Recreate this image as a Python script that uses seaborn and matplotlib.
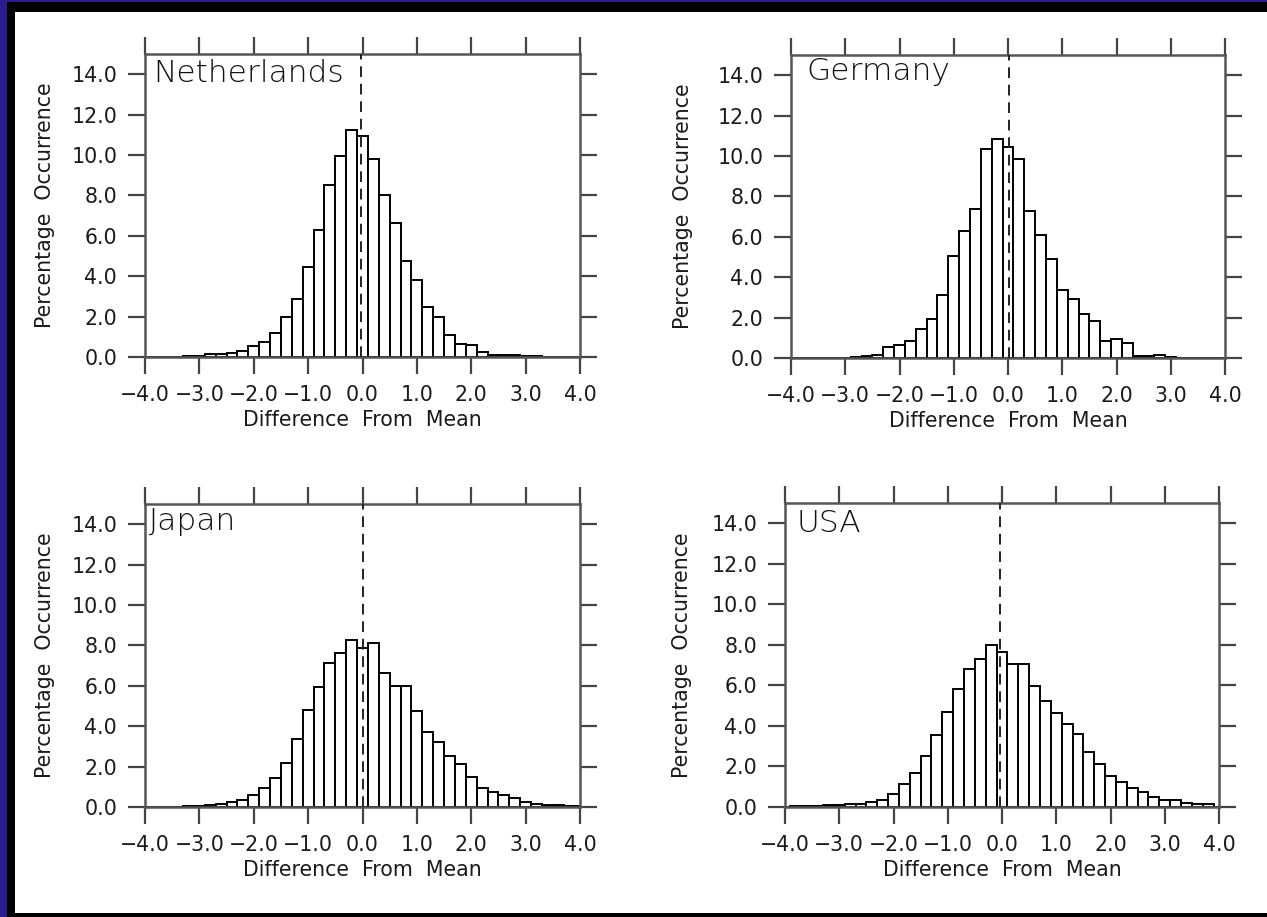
import numpy as np
import pandas as pd
import seaborn as sns
import matplotlib.pyplot as plt
from matplotlib.patches import Rectangle

# bin centres, 0.2 wide, from -4.0 to 4.0
centers = np.round(np.arange(-4.0, 4.001, 0.2), 1)

countries = ["Netherlands", "Germany", "Japan", "USA"]

# percentage occurrence per bin
netherlands = [0.0, 0.0, 0.02, 0.02, 0.03, 0.04, 0.13, 0.16, 0.20, 0.30,
               0.53, 0.74, 1.19, 1.98, 2.88, 4.45, 6.31, 8.52, 9.97, 11.25,
               10.96, 9.80, 8.02, 6.62, 4.74, 3.82, 2.47, 1.98, 1.07, 0.66,
               0.58, 0.25, 0.12, 0.08, 0.10, 0.05, 0.03, 0.02, 0.02, 0.0, 0.0]
germany = [0.0, 0.0, 0.0, 0.0, 0.0, 0.0, 0.03, 0.08, 0.16, 0.53,
           0.66, 0.82, 1.45, 1.94, 3.10, 5.03, 6.31, 7.38, 10.33, 10.83,
           10.47, 9.84, 7.29, 6.07, 4.91, 3.35, 2.93, 2.19, 1.85, 0.86,
           0.94, 0.74, 0.12, 0.08, 0.16, 0.05, 0.02, 0.02, 0.02, 0.0, 0.0]
japan = [0.0, 0.02, 0.02, 0.02, 0.03, 0.05, 0.08, 0.13, 0.25, 0.36,
         0.61, 0.96, 1.45, 2.20, 3.35, 4.82, 5.95, 7.14, 7.63, 8.29,
         7.88, 8.10, 6.61, 6.00, 6.00, 4.74, 3.72, 3.22, 2.51, 2.15,
         1.49, 0.96, 0.74, 0.58, 0.45, 0.25, 0.17, 0.12, 0.08, 0.05, 0.03]
usa = [0.02, 0.03, 0.03, 0.05, 0.08, 0.10, 0.13, 0.16, 0.25, 0.36,
       0.66, 1.15, 1.70, 2.51, 3.54, 4.70, 5.80, 6.79, 7.29, 7.99,
       7.66, 7.05, 7.05, 5.97, 5.22, 4.62, 4.09, 3.59, 2.72, 2.14,
       1.53, 1.24, 0.96, 0.74, 0.49, 0.33, 0.33, 0.20, 0.13, 0.13, 0.0]

# dashed reference line (mean) per panel
mean_line = [-0.03, 0.01, 0.0, -0.04]

xticks = [-4, -3, -2, -1, 0, 1, 2, 3, 4]
xticklabels = [f"{v:.1f}".replace("-", "\u2212") for v in xticks]
yticks = [0, 2, 4, 6, 8, 10, 12, 14]
yticklabels = [f"{v:.1f}" for v in yticks]

df = pd.DataFrame({
    "country": np.repeat(countries, len(centers)),
    "diff": np.tile(centers, len(countries)),
    "pct": netherlands + germany + japan + usa,
})

sns.set_style("ticks")
plt.rcParams["font.family"] = ["DejaVu Sans"]

W, H = 1267, 917
fig = plt.figure(figsize=(W / 100, H / 100), dpi=100)
fig.patch.set_facecolor("white")

# dark frame round the picture
fig.add_artist(Rectangle((0, 0), 1, 1, transform=fig.transFigure,
                         facecolor="#2a1b8e", edgecolor="none", zorder=-30))
fig.add_artist(Rectangle((7 / W, 0), 1, 915 / H, transform=fig.transFigure,
                         facecolor="black", edgecolor="none", zorder=-20))
fig.add_artist(Rectangle((15 / W, 4 / H), 1, 901 / H, transform=fig.transFigure,
                         facecolor="white", edgecolor="none", zorder=-10))

# axes boxes in pixels: left, right, top, bottom
boxes = [(145, 580, 54, 357), (791, 1225, 55, 358),
         (145, 580, 504, 807), (785, 1219, 503, 807)]
title_pos = [(0.020, 0.985), (0.035, 0.995), (0.010, 0.989), (0.026, 0.981)]
ylabel_x = [-0.207, -0.225, -0.207, -0.215]

for i, name in enumerate(countries):
    l, r, t, b = boxes[i]
    ax = fig.add_axes([l / W, (H - b) / H, (r - l) / W, (b - t) / H])
    sub = df[df["country"] == name]
    sns.histplot(data=sub, x="diff", weights="pct", binwidth=0.2,
                 binrange=(-4.1, 4.1), ax=ax, color="white",
                 edgecolor="black", linewidth=1.4, alpha=1)
    ax.axvline(mean_line[i], color="#222222", lw=1.4, ls=(0, (5.5, 3.5)), zorder=5)

    ax.set_xlim(-4, 4)
    ax.set_ylim(0, 15)
    ax.set_xticks(xticks, xticklabels)
    ax.set_yticks(yticks, yticklabels)
    ax.tick_params(direction="out", length=12.5, width=1.6, pad=7.5,
                   labelsize=14.8, top=True, right=True, color="#444444",
                   labelcolor="#1a1a1a")
    for s in ax.spines.values():
        s.set_visible(True)
        s.set_linewidth(1.8)
        s.set_color("#555555")

    ax.set_xlabel("Difference  From  Mean", fontsize=14.8, labelpad=4,
                  color="#1a1a1a")
    ax.set_ylabel("Percentage  Occurrence", fontsize=14.8, color="#1a1a1a")
    ax.yaxis.set_label_coords(ylabel_x[i], 0.5)

    ax.text(title_pos[i][0], title_pos[i][1], name, transform=ax.transAxes,
            ha="left", va="top", fontsize=22.5, fontweight="light",
            color="#111111")

fig.savefig("out.png", dpi=100)
